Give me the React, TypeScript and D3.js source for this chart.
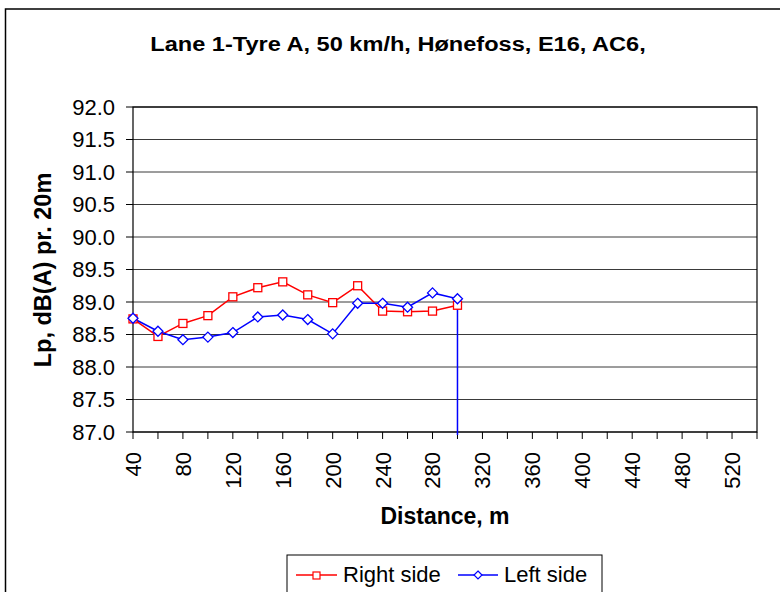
import React from "react";
import * as d3 from "d3";

const distances = [40, 60, 80, 100, 120, 140, 160, 180, 200, 220, 240, 260, 280, 300];
const rightSide = [88.74, 88.47, 88.67, 88.79, 89.08, 89.22, 89.31, 89.11, 88.99, 89.25, 88.86, 88.85, 88.86, 88.95];
const leftSide = [88.75, 88.55, 88.42, 88.46, 88.53, 88.77, 88.8, 88.73, 88.51, 88.98, 88.98, 88.92, 89.14, 89.05];
// the left-side trace drops to zero at its last distance
const leftDropDistance = 300;
const leftDropValue = 0;
const yTicks = [87, 87.5, 88, 88.5, 89, 89.5, 90, 90.5, 91, 91.5, 92];
const xTickMarks = d3.range(40, 541, 20);
const xTickLabels = d3.range(40, 521, 40);

const W = 780;
const H = 592;
const FONT = "'Liberation Sans', Arial, sans-serif";

export default function App() {
  const x = d3.scaleLinear().domain([40, 540]).range([133, 757]);
  const y = d3.scaleLinear().domain([87, 92]).range([432, 107]);
  const [x0, x1] = x.range();
  const [yb, yt] = y.range();

  const line = d3
    .line<[number, number]>()
    .x((d) => x(d[0]))
    .y((d) => y(d[1]));

  const rightPts: [number, number][] = distances.map((d, i) => [d, rightSide[i]]);
  const leftPts: [number, number][] = distances.map((d, i) => [d, leftSide[i]]);
  const leftLinePts: [number, number][] = [...leftPts, [leftDropDistance, leftDropValue]];

  const square = (cx: number, cy: number, k: string) => (
    <rect key={k} x={cx - 4} y={cy - 4} width={8} height={8} fill="white" stroke="#ff0000" strokeWidth={1.3} />
  );
  const diamond = (cx: number, cy: number, k: string) => (
    <path
      key={k}
      d={`M${cx},${cy - 5}L${cx + 5},${cy}L${cx},${cy + 5}L${cx - 5},${cy}Z`}
      fill="white"
      stroke="#0000ff"
      strokeWidth={1.3}
    />
  );

  return (
    <svg
      width={W}
      height={H}
      style={{ position: "fixed", left: 0, top: 0, background: "white" }}
      fontFamily={FONT}
    >
      <defs>
        <clipPath id="plotclip">
          <rect x={x0 - 10} y={yt - 10} width={x1 - x0 + 20} height={yb - yt + 13} />
        </clipPath>
      </defs>
      {/* outer chart frame */}
      <rect x={5.5} y={9} width={W + 10} height={H + 10} fill="white" stroke="#000" strokeWidth={1.5} />

      {/* title */}
      <text
        transform="translate(398,51) scale(1.15,1)"
        textAnchor="middle"
        fontSize={20.5}
        fontWeight="bold"
        fill="#000"
      >
        Lane 1-Tyre A, 50 km/h, Hønefoss, E16, AC6,
      </text>

      {/* plot area */}
      <rect x={x0} y={yt} width={x1 - x0} height={yb - yt} fill="white" stroke="none" />
      {yTicks.map((t) => (
        <line key={"g" + t} x1={x0} x2={x1} y1={y(t)} y2={y(t)} stroke="#3a3a3a" strokeWidth={1} />
      ))}
      <rect x={x0} y={yt} width={x1 - x0} height={yb - yt} fill="none" stroke="#000" strokeWidth={1.2} />

      {/* y axis ticks and labels */}
      {yTicks.map((t) => (
        <g key={"y" + t}>
          <line x1={x0 - 7} x2={x0} y1={y(t)} y2={y(t)} stroke="#000" strokeWidth={1} />
          <text x={115} y={y(t)} dy="0.36em" textAnchor="end" fontSize={22} fill="#000">
            {d3.format(".1f")(t)}
          </text>
        </g>
      ))}

      {/* x axis ticks and labels */}
      {xTickMarks.map((t) => (
        <line key={"xt" + t} x1={x(t)} x2={x(t)} y1={yb} y2={yb + 7} stroke="#000" strokeWidth={1} />
      ))}
      {xTickLabels.map((t) => (
        <text
          key={"xl" + t}
          transform={`translate(${x(t)},452) rotate(-90)`}
          dy="0.36em"
          textAnchor="end"
          fontSize={22}
          fill="#000"
        >
          {t}
        </text>
      ))}

      {/* axis titles */}
      <text x={445} y={524} textAnchor="middle" fontSize={23} fontWeight="bold" fill="#000">
        Distance, m
      </text>
      <text
        transform={`translate(51,270) rotate(-90)`}
        textAnchor="middle"
        fontSize={23.5}
        fontWeight="bold"
        fill="#000"
      >
        Lp, dB(A) pr. 20m
      </text>

      {/* series */}
      <g clipPath="url(#plotclip)">
        <path d={line(rightPts) || ""} fill="none" stroke="#ff0000" strokeWidth={1.5} />
        <path d={line(leftLinePts) || ""} fill="none" stroke="#0000ff" strokeWidth={1.5} />
        {rightPts.map((p, i) => square(x(p[0]), y(p[1]), "r" + i))}
        {leftPts.map((p, i) => diamond(x(p[0]), y(p[1]), "l" + i))}
      </g>

      {/* legend */}
      <rect x={287} y={555} width={315} height={45} fill="white" stroke="#000" strokeWidth={1} />
      <line x1={296} x2={337} y1={575} y2={575} stroke="#ff0000" strokeWidth={1.5} />
      <rect x={313} y={572} width={7} height={7} fill="white" stroke="#ff0000" strokeWidth={1.2} />
      <text x={343} y={582} fontSize={22} fill="#000">Right side</text>
      <line x1={458} x2={498} y1={575} y2={575} stroke="#0000ff" strokeWidth={1.5} />
      <path d="M478,571L482,575L478,579L474,575Z" fill="white" stroke="#0000ff" strokeWidth={1.2} />
      <text x={504} y={582} fontSize={22} fill="#000">Left side</text>
    </svg>
  );
}
